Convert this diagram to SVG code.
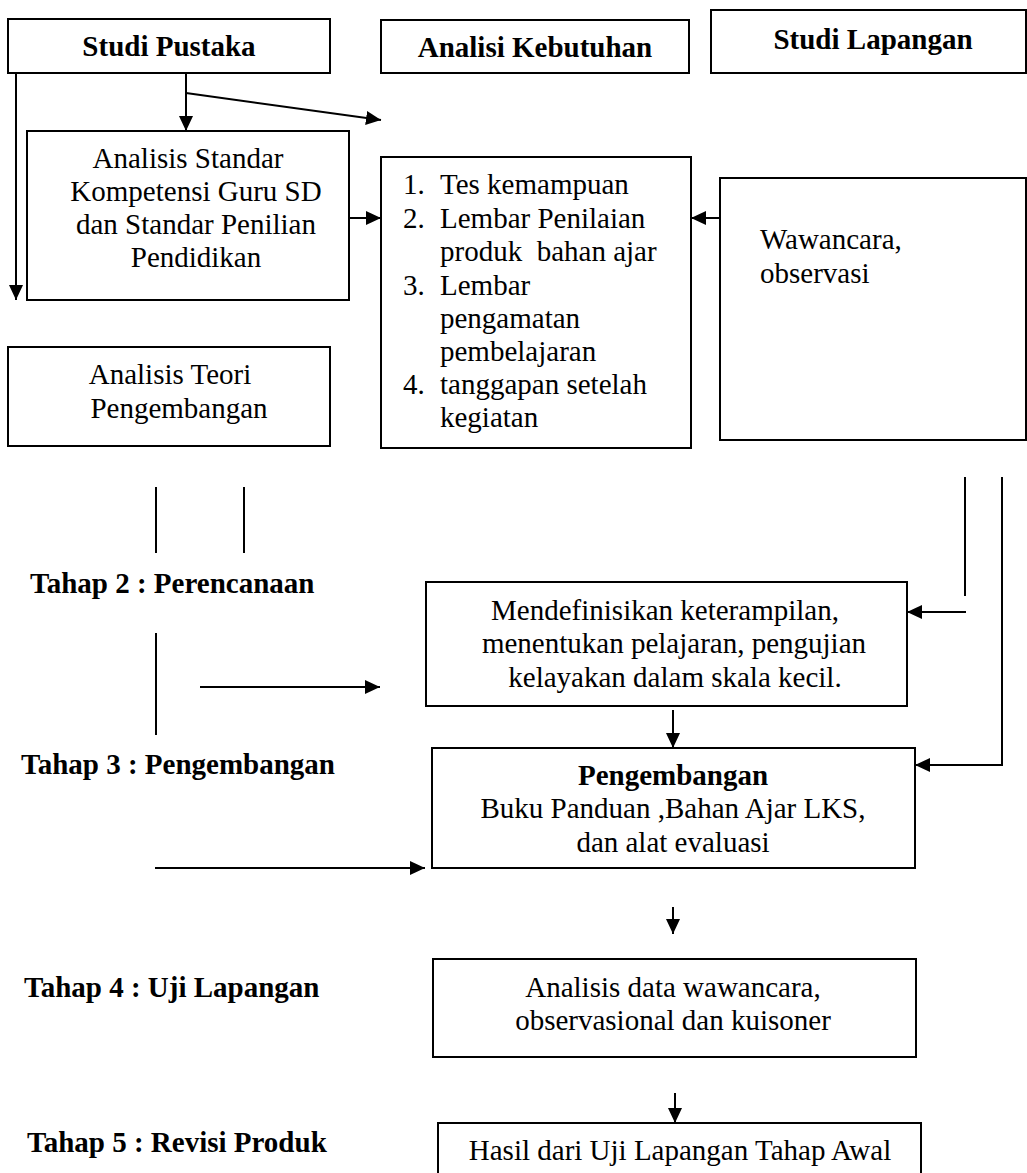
<svg xmlns="http://www.w3.org/2000/svg" width="1027" height="1173" viewBox="0 0 1027 1173">
<defs>
<marker id="ah" markerUnits="userSpaceOnUse" markerWidth="16" markerHeight="16" refX="15" refY="7" orient="auto"><path d="M0,0 L15,7 L0,14 z" fill="#000"/></marker>
<style>
.box{fill:#fff;stroke:#000;stroke-width:2}
.t{font-family:"Liberation Serif","Times New Roman",serif;font-size:29px;fill:#000}
.b{font-weight:bold}
.c{text-anchor:middle}
.ln{stroke:#000;stroke-width:2;fill:none}
.ar{marker-end:url(#ah)}
</style>
</defs>
<rect width="1027" height="1173" fill="#fff"/>

<g id="studi-pustaka">
<rect class="box" x="8" y="19" width="322" height="54"/>
<text class="t b c" x="169" y="56">Studi Pustaka</text>
</g>
<g id="analisi-kebutuhan">
<rect class="box" x="381" y="20" width="308" height="53"/>
<text class="t b c" x="535" y="57">Analisi Kebutuhan</text>
</g>
<g id="studi-lapangan">
<rect class="box" x="711" y="10" width="315" height="63"/>
<text class="t b c" x="873" y="49">Studi Lapangan</text>
</g>
<g id="analisis-standar">
<rect class="box" x="27" y="131" width="322" height="169"/>
<text class="t c" x="188" y="168">Analisis Standar</text>
<text class="t c" x="196" y="201">Kompetensi Guru SD</text>
<text class="t c" x="196" y="234">dan Standar Penilian</text>
<text class="t c" x="196" y="267">Pendidikan</text>
</g>
<g id="instrumen">
<rect class="box" x="381" y="157" width="310" height="291"/>
<text class="t" x="403" y="194">1.</text><text class="t" x="440" y="194">Tes kemampuan</text>
<text class="t" x="403" y="228">2.</text><text class="t" x="440" y="228">Lembar Penilaian</text>
<text class="t" x="440" y="261" xml:space="preserve">produk  bahan ajar</text>
<text class="t" x="403" y="295">3.</text><text class="t" x="440" y="295">Lembar</text>
<text class="t" x="440" y="328">pengamatan</text>
<text class="t" x="440" y="361">pembelajaran</text>
<text class="t" x="403" y="394">4.</text><text class="t" x="440" y="394">tanggapan setelah</text>
<text class="t" x="440" y="427">kegiatan</text>
</g>
<g id="wawancara">
<rect class="box" x="720" y="178" width="306" height="262"/>
<text class="t" x="760" y="249">Wawancara,</text>
<text class="t" x="760" y="283">observasi</text>
</g>
<g id="analisis-teori">
<rect class="box" x="8" y="347" width="322" height="99"/>
<text class="t c" x="170" y="384">Analisis Teori</text>
<text class="t c" x="179" y="418">Pengembangan</text>
</g>
<g id="tahap-2">
<text class="t b" x="30" y="593">Tahap 2 : Perencanaan</text>
</g>
<g id="tahap-3">
<text class="t b" x="21" y="774">Tahap 3 : Pengembangan</text>
</g>
<g id="tahap-4">
<text class="t b" x="24" y="997">Tahap 4 : Uji Lapangan</text>
</g>
<g id="tahap-5">
<text class="t b" x="27" y="1152">Tahap 5 : Revisi Produk</text>
</g>
<g id="mendefinisikan">
<rect class="box" x="426" y="582" width="481" height="124"/>
<text class="t c" x="665" y="620">Mendefinisikan keterampilan,</text>
<text class="t c" x="674" y="653">menentukan pelajaran, pengujian</text>
<text class="t c" x="675" y="687">kelayakan dalam skala kecil.</text>
</g>
<g id="pengembangan">
<rect class="box" x="432" y="748" width="483" height="120"/>
<text class="t b c" x="673" y="785">Pengembangan</text>
<text class="t c" x="673" y="818">Buku Panduan ,Bahan Ajar LKS,</text>
<text class="t c" x="673" y="852">dan alat evaluasi</text>
</g>
<g id="analisis-data">
<rect class="box" x="433" y="959" width="483" height="98"/>
<text class="t c" x="673" y="997">Analisis data wawancara,</text>
<text class="t c" x="673" y="1030">observasional dan kuisoner</text>
</g>
<g id="hasil">
<rect class="box" x="438" y="1123" width="483" height="62"/>
<text class="t c" x="680" y="1160">Hasil dari Uji Lapangan Tahap Awal</text>
</g>

<g id="connectors">
<line class="ln ar" x1="16" y1="73" x2="16" y2="300"/>
<line class="ln ar" x1="186" y1="73" x2="186" y2="131"/>
<line class="ln ar" x1="186" y1="93" x2="381" y2="120"/>
<line class="ln ar" x1="349" y1="218" x2="381" y2="218"/>
<line class="ln ar" x1="720" y1="218" x2="691" y2="218"/>
<line class="ln" x1="156" y1="487" x2="156" y2="553"/>
<line class="ln" x1="244" y1="487" x2="244" y2="553"/>
<line class="ln" x1="156" y1="633" x2="156" y2="735"/>
<line class="ln ar" x1="200" y1="687" x2="380" y2="687"/>
<line class="ln" x1="965" y1="477" x2="965" y2="596"/>
<line class="ln ar" x1="966" y1="612" x2="907" y2="612"/>
<polyline class="ln ar" points="1002,477 1002,765 915,765"/>
<line class="ln ar" x1="673" y1="710" x2="673" y2="748"/>
<line class="ln ar" x1="155" y1="868" x2="425" y2="868"/>
<line class="ln ar" x1="673" y1="907" x2="673" y2="934"/>
<line class="ln ar" x1="675" y1="1093" x2="675" y2="1123"/>
</g>
</svg>
